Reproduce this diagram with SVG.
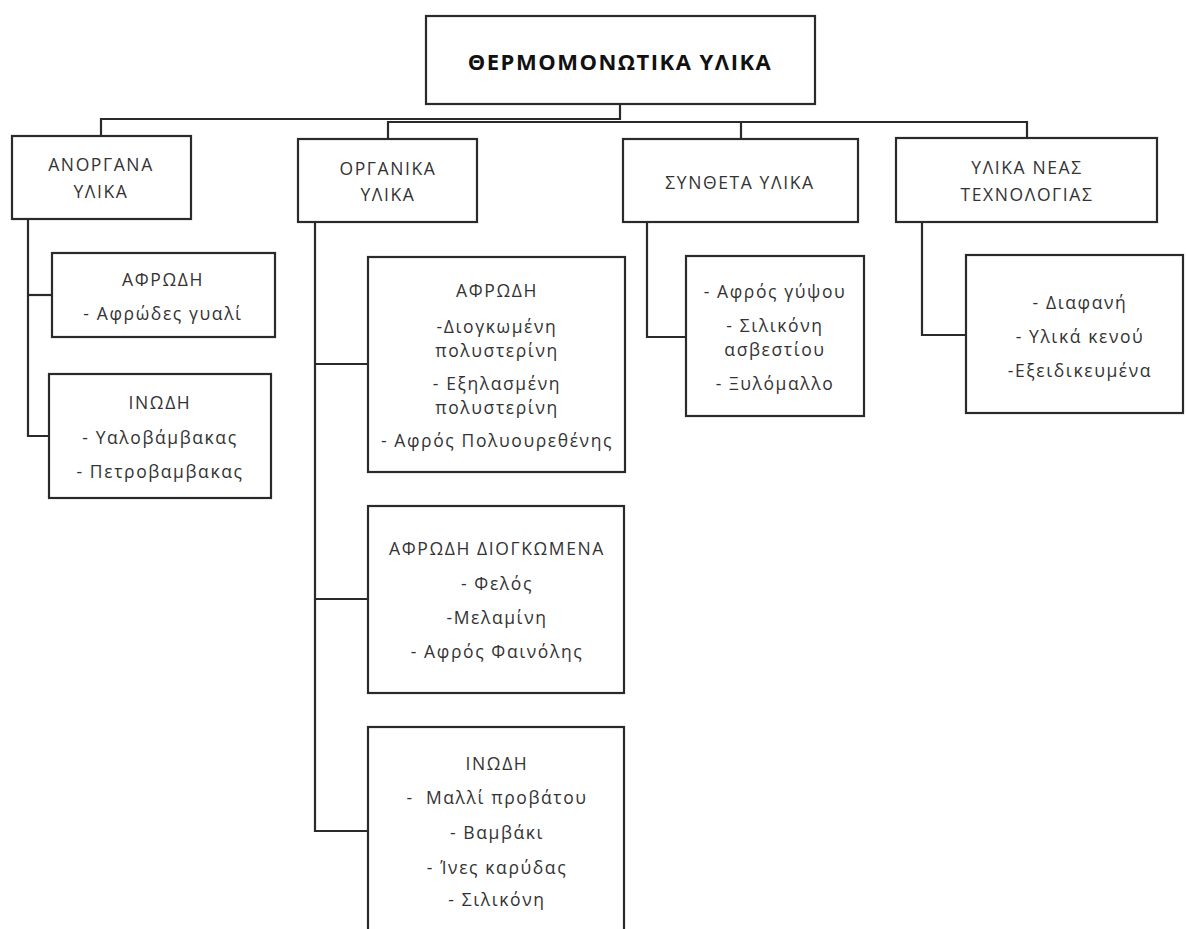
<svg xmlns="http://www.w3.org/2000/svg" width="1186" height="929" viewBox="0 0 1186 929">
<style>
.box{fill:#fff;stroke:#2a2a2a;stroke-width:2.2}
.ln{fill:none;stroke:#2a2a2a;stroke-width:2.2}
.t{font-family:"Open Sans","Liberation Sans",sans-serif;font-size:17.5px;letter-spacing:1.6px;fill:#333;text-anchor:middle;dominant-baseline:central}
.title{font-family:"Open Sans","Liberation Sans",sans-serif;font-size:22px;letter-spacing:1.5px;font-weight:bold;fill:#111;text-anchor:middle;dominant-baseline:central}
</style>
<rect width="1186" height="929" fill="#fff"/>
<g id="connectors">
<polyline class="ln" points="620,104 620,119 101,119 101,136"/>
<polyline class="ln" points="388,139 388,122 1027,122 1027,138"/>
<line class="ln" x1="741" y1="122" x2="741" y2="139"/>
<polyline class="ln" points="28,219 28,436 49,436"/>
<line class="ln" x1="28" y1="295" x2="52" y2="295"/>
<polyline class="ln" points="315,222 315,831 368,831"/>
<line class="ln" x1="315" y1="364" x2="368" y2="364"/>
<line class="ln" x1="315" y1="599" x2="368" y2="599"/>
<polyline class="ln" points="647,222 647,337 686,337"/>
<polyline class="ln" points="922,222 922,335 966,335"/>
</g>
<g id="root">
<rect class="box" x="426" y="16" width="389" height="88"/>
<text class="title" x="620" y="61">ΘΕΡΜΟΜΟΝΩΤΙΚΑ ΥΛΙΚΑ</text>
</g>
<g id="anorgana">
<rect class="box" x="12" y="136" width="179" height="83"/>
<text class="t" x="101" y="164">ΑΝΟΡΓΑΝΑ</text>
<text class="t" x="101" y="191">ΥΛΙΚΑ</text>
</g>
<g id="organika">
<rect class="box" x="298" y="139" width="179" height="83"/>
<text class="t" x="388" y="168">ΟΡΓΑΝΙΚΑ</text>
<text class="t" x="388" y="194">ΥΛΙΚΑ</text>
</g>
<g id="syntheta">
<rect class="box" x="623" y="139" width="235" height="83"/>
<text class="t" x="740" y="182">ΣΥΝΘΕΤΑ ΥΛΙΚΑ</text>
</g>
<g id="nea-tech">
<rect class="box" x="896" y="138" width="261" height="84"/>
<text class="t" x="1027" y="167">ΥΛΙΚΑ ΝΕΑΣ</text>
<text class="t" x="1027" y="194">ΤΕΧΝΟΛΟΓΙΑΣ</text>
</g>
<g id="anorgana-afrodi">
<rect class="box" x="52" y="253" width="223" height="84"/>
<text class="t" x="163" y="279">ΑΦΡΩΔΗ</text>
<text class="t" x="163" y="313">- Αφρώδες γυαλί</text>
</g>
<g id="anorgana-inodi">
<rect class="box" x="49" y="374" width="222" height="124"/>
<text class="t" x="160" y="402">ΙΝΩΔΗ</text>
<text class="t" x="160" y="437">- Υαλοβάμβακας</text>
<text class="t" x="160" y="471">- Πετροβαμβακας</text>
</g>
<g id="organika-afrodi">
<rect class="box" x="368" y="257" width="257" height="215"/>
<text class="t" x="497" y="290">ΑΦΡΩΔΗ</text>
<text class="t" x="497" y="326">-Διογκωμένη</text>
<text class="t" x="497" y="350">πολυστερίνη</text>
<text class="t" x="497" y="383">- Εξηλασμένη</text>
<text class="t" x="497" y="407">πολυστερίνη</text>
<text class="t" x="497" y="440">- Αφρός Πολυουρεθένης</text>
</g>
<g id="organika-diogkomena">
<rect class="box" x="368" y="506" width="256" height="187"/>
<text class="t" x="497" y="548">ΑΦΡΩΔΗ ΔΙΟΓΚΩΜΕΝΑ</text>
<text class="t" x="497" y="583">- Φελός</text>
<text class="t" x="497" y="617">-Μελαμίνη</text>
<text class="t" x="497" y="651">- Αφρός Φαινόλης</text>
</g>
<g id="organika-inodi">
<rect class="box" x="368" y="727" width="256" height="220"/>
<text class="t" x="497" y="763">ΙΝΩΔΗ</text>
<text class="t" x="497" y="797" xml:space="preserve">-  Μαλλί προβάτου</text>
<text class="t" x="497" y="832">- Βαμβάκι</text>
<text class="t" x="497" y="867">- Ίνες καρύδας</text>
<text class="t" x="497" y="899">- Σιλικόνη</text>
</g>
<g id="syntheta-sub">
<rect class="box" x="686" y="256" width="178" height="160"/>
<text class="t" x="775" y="291">- Αφρός γύψου</text>
<text class="t" x="775" y="325">- Σιλικόνη</text>
<text class="t" x="775" y="349">ασβεστίου</text>
<text class="t" x="775" y="383">- Ξυλόμαλλο</text>
</g>
<g id="nea-tech-sub">
<rect class="box" x="966" y="255" width="217" height="158"/>
<text class="t" x="1080" y="302">- Διαφανή</text>
<text class="t" x="1080" y="336">- Υλικά κενού</text>
<text class="t" x="1080" y="370">-Εξειδικευμένα</text>
</g>
</svg>
